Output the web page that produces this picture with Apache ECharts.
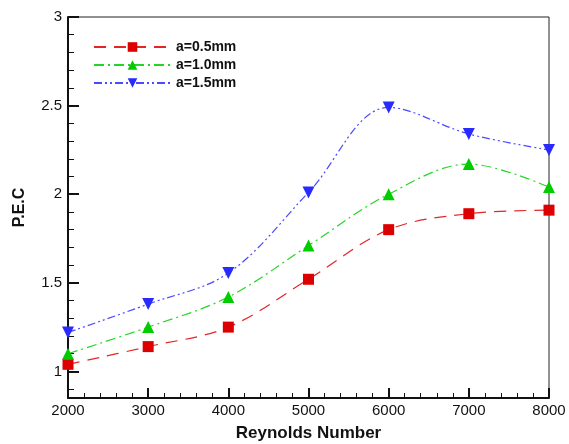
<!DOCTYPE html>
<html>
<head>
<meta charset="utf-8">
<script src="https://cdn.jsdelivr.net/npm/echarts@6/dist/echarts.min.js"></script>
<style>
  html, body { margin: 0; padding: 0; background: #fff; }
  #chart { width: 569px; height: 444px; }
</style>
</head>
<body>
<div id="chart"></div>
<script>
const reynolds = [2000, 3000, 4000, 5000, 6000, 7000, 8000];
const pec05 = [1.04, 1.14, 1.25, 1.52, 1.80, 1.89, 1.91];
const pec10 = [1.10, 1.25, 1.42, 1.71, 2.00, 2.17, 2.04];
const pec15 = [1.22, 1.38, 1.555, 2.01, 2.49, 2.34, 2.25];
const yLabels = [1, 1.5, 2, 2.5, 3];
const yMinorTicks = [0.9, 1.1, 1.2, 1.3, 1.4, 1.6, 1.7, 1.8, 1.9, 2.1, 2.2, 2.3, 2.4, 2.6, 2.7, 2.8, 2.9];

const font = "Liberation Sans, Arial, sans-serif";

const chart = echarts.init(document.getElementById("chart"));

const makeSeries = (name, values, color, symbol, dash) => ({
  name,
  type: "line",
  smooth: 0.35,
  data: reynolds.map((r, i) => [r, values[i]]),
  symbol,
  symbolSize: symbol === "rect" ? 11 : 12,
  itemStyle: { color },
  lineStyle: { color, width: 1.2, type: dash, opacity: 0.85 },
});

chart.setOption({
  animation: false,
  grid: {
    left: 68,
    right: 20,
    top: 17,
    bottom: 46,
    outerBoundsMode: "none",
    show: true,
    borderColor: "#222",
    borderWidth: 1,
  },
  legend: {
    orient: "vertical",
    left: 88,
    top: 35,
    itemWidth: 77,
    itemHeight: 12,
    itemGap: 4,
    textStyle: { fontFamily: font, fontSize: 14, fontWeight: "bold", color: "#111" },
    data: ["a=0.5mm", "a=1.0mm", "a=1.5mm"],
  },
  xAxis: {
    type: "value",
    min: 2000,
    max: 8000,
    interval: 1000,
    name: "Reynolds Number",
    nameLocation: "middle",
    nameGap: 27,
    nameTextStyle: { fontFamily: font, fontSize: 17, fontWeight: "bold", color: "#111" },
    axisLine: { lineStyle: { color: "#111", width: 2 } },
    axisTick: { inside: true, length: 10, lineStyle: { color: "#111", width: 2 } },
    minorTick: { show: true, splitNumber: 5, length: 5, lineStyle: { color: "#111", width: 1 } },
    axisLabel: { fontFamily: font, fontSize: 15, color: "#111", margin: 5, formatter: (v) => String(v) },
    splitLine: { show: false },
  },
  yAxis: [
    {
      type: "value",
      min: 0.85,
      max: 3,
      name: "P.E.C",
      nameLocation: "middle",
      nameGap: 40,
      nameTextStyle: { fontFamily: font, fontSize: 16, fontWeight: "bold", color: "#111" },
      axisLine: { lineStyle: { color: "#111", width: 2 } },
      axisTick: { inside: true, length: 11, customValues: yLabels, lineStyle: { color: "#111", width: 2 } },
      axisLabel: { fontFamily: font, fontSize: 15, color: "#111", margin: 6, customValues: yLabels },
      splitLine: { show: false },
    },
    {
      type: "value",
      min: 0.85,
      max: 3,
      position: "left",
      offset: 0,
      axisLine: { show: false },
      axisTick: { inside: true, length: 6, customValues: yMinorTicks, lineStyle: { color: "#111", width: 1 } },
      axisLabel: { show: false },
      splitLine: { show: false },
    },
  ],
  series: [
    makeSeries("a=0.5mm", pec05, "#dd0000", "rect", [12, 8]),
    makeSeries("a=1.0mm", pec10, "#00cc00", "triangle", [10, 4, 2, 4]),
    makeSeries("a=1.5mm", pec15, "#2a2aff", "path://M0,0 L10,0 L5,9 Z", [8, 3, 2, 3, 2, 3]),
  ],
});
</script>
</body>
</html>
